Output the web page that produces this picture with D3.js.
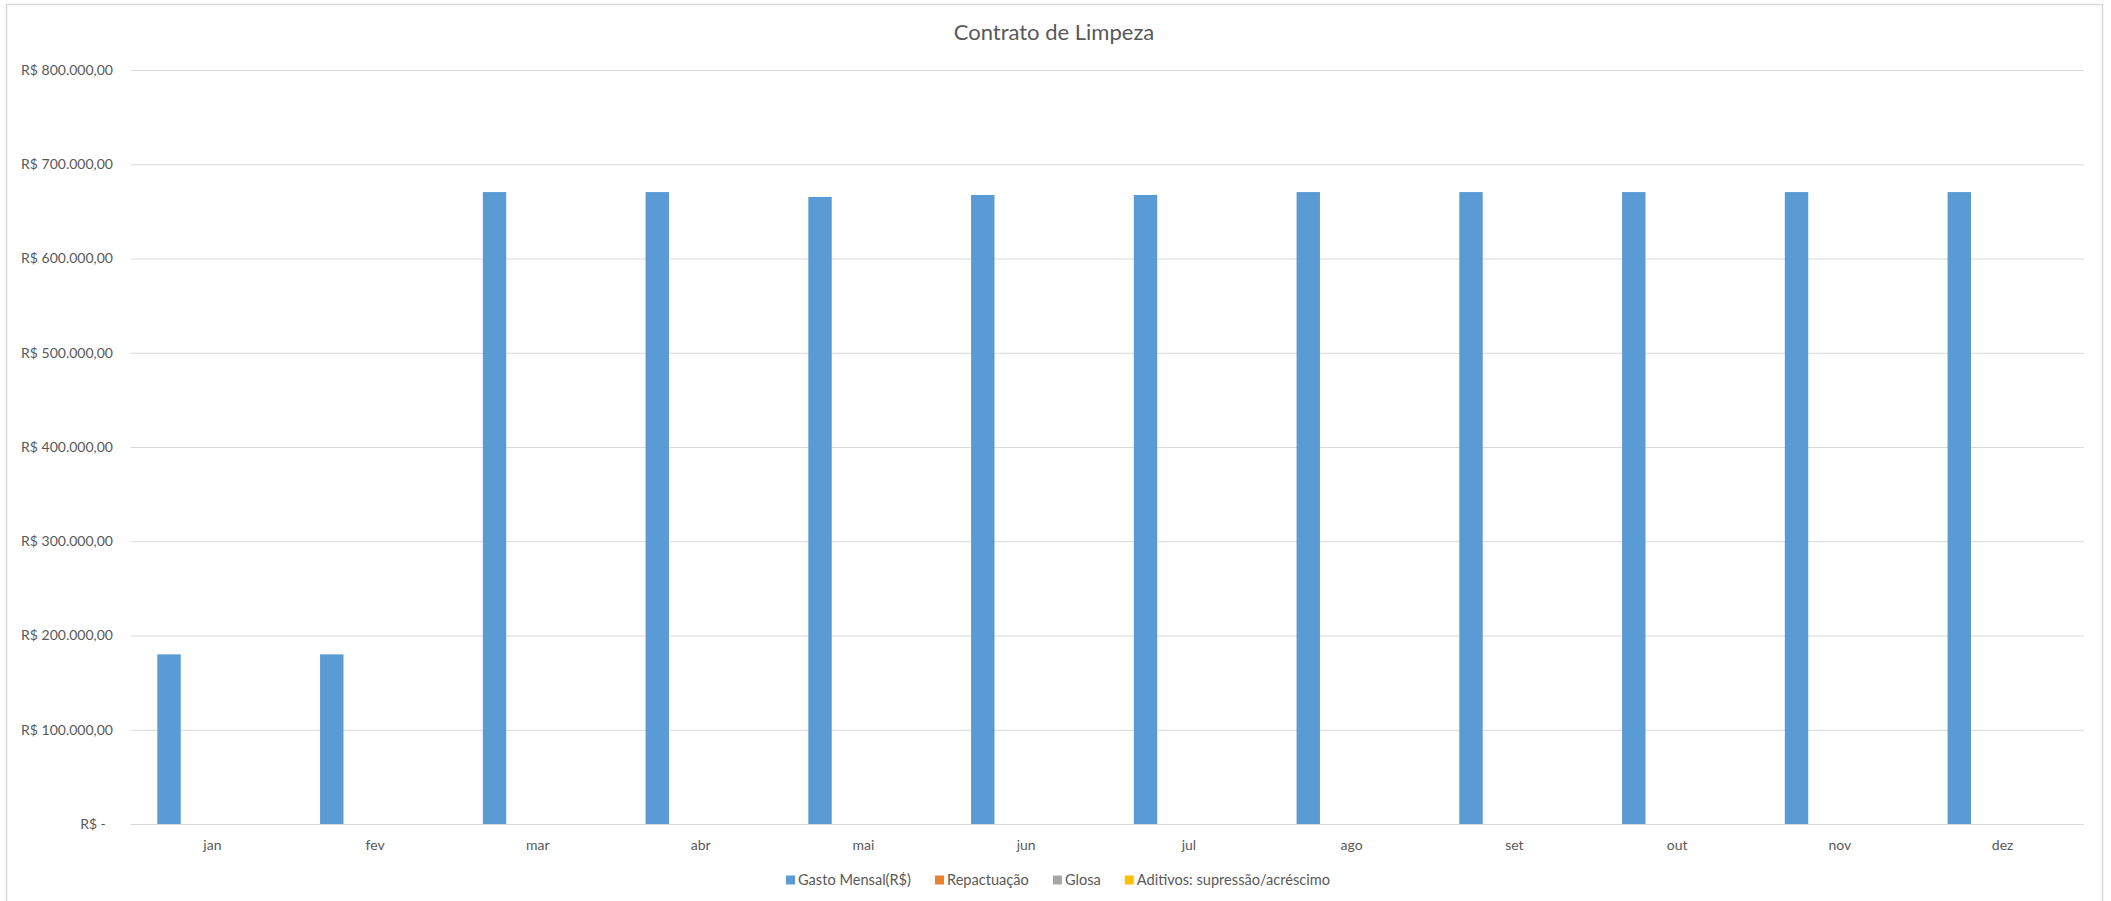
<!DOCTYPE html>
<html>
<head>
<meta charset="utf-8">
<script src="https://cdn.jsdelivr.net/npm/d3@7"></script>
<style>
  body { margin: 0; background: #fff; }
  svg { display: block; font-family: Lato, "Open Sans", sans-serif; }
</style>
</head>
<body>
<svg id="chart" width="2111" height="901"></svg>
<script>
// data
var months = ["jan", "fev", "mar", "abr", "mai", "jun", "jul", "ago", "set", "out", "nov", "dez"];
var seriesNames = ["Gasto Mensal(R$)", "Repactuação", "Glosa", "Aditivos: supressão/acréscimo"];
var seriesColors = ["#5B9BD5", "#ED7D31", "#A5A5A5", "#FFC000"];
var gastoMensal = [180000, 180000, 670500, 670500, 665300, 667400, 667400, 670500, 670500, 670500, 670500, 670500];
var repactuacao = [0, 0, 0, 0, 0, 0, 0, 0, 0, 0, 0, 0];
var glosa = [0, 0, 0, 0, 0, 0, 0, 0, 0, 0, 0, 0];
var aditivos = [0, 0, 0, 0, 0, 0, 0, 0, 0, 0, 0, 0];
var yTicks = [0, 100000, 200000, 300000, 400000, 500000, 600000, 700000, 800000];

var allSeries = [gastoMensal, repactuacao, glosa, aditivos];

document.addEventListener('DOMContentLoaded', function() {
    drawChart();
}, false);

function fmtMoney(v) {
    if (v === 0) return "R$ -\u00a0\u00a0";
    // brazilian format: 800.000,00
    var s = d3.format(",.2f")(v);
    s = s.replace(/,/g, "#").replace(".", ",").replace(/#/g, ".");
    return "R$ " + s;
}

function drawChart() {
    var svg = d3.select("#chart");
    var left = 131, right = 2084, top = 70, bottom = 824;
    var textColor = "#595959";
    var gridColor = "#d9d9d9";

    // outer border of the chart area
    svg.append("rect")
        .attr("x", 6.5).attr("y", 4.5)
        .attr("width", 2096).attr("height", 920)
        .style("fill", "none")
        .style("stroke", gridColor)
        .style("stroke-width", "1.5px");

    var x0 = d3.scaleBand().domain(months).range([left, right]);
    var groupW = 115.6;
    var off = (x0.bandwidth() - groupW) / 2;
    var x1 = d3.scaleBand().domain(d3.range(seriesNames.length))
        .range([off, off + groupW]).paddingInner(0.19).paddingOuter(0.095);
    var y = d3.scaleLinear().domain([0, 800000]).range([bottom, top]);

    // gridlines
    svg.append("g").selectAll("line")
        .data(yTicks)
        .enter().append("line")
        .attr("x1", left).attr("x2", right)
        .attr("y1", function(d){ return y(d) + 0.5; })
        .attr("y2", function(d){ return y(d) + 0.5; })
        .style("stroke", gridColor)
        .style("stroke-width", "1px");

    // y axis labels
    var yAxis = d3.axisLeft(y).tickValues(yTicks).tickFormat(fmtMoney).tickSize(0).tickPadding(18);
    var gy = svg.append("g").attr("transform", "translate(" + left + ",0)").call(yAxis);
    gy.select(".domain").remove();
    gy.selectAll("text")
        .style("font-family", "Lato, 'Open Sans', sans-serif")
        .style("font-size", "14px")
        .style("fill", textColor);

    // x axis labels
    var xAxis = d3.axisBottom(x0).tickSize(0).tickPadding(16);
    var gx = svg.append("g").attr("transform", "translate(0," + bottom + ")").call(xAxis);
    gx.select(".domain").remove();
    gx.selectAll("text")
        .style("font-family", "Lato, 'Open Sans', sans-serif")
        .style("font-size", "14px")
        .style("fill", textColor);

    // bars
    var groups = svg.append("g").selectAll("g")
        .data(months)
        .enter().append("g")
        .attr("transform", function(d){ return "translate(" + x0(d) + ",0)"; });

    groups.selectAll("rect")
        .data(function(d, i){
            return allSeries.map(function(s, k){ return {k: k, v: s[i]}; });
        })
        .enter().append("rect")
        .attr("x", function(d){ return x1(d.k); })
        .attr("width", x1.bandwidth())
        .attr("y", function(d){ return y(d.v); })
        .attr("height", function(d){ return y(0) - y(d.v); })
        .style("fill", function(d){ return seriesColors[d.k]; });

    // title
    svg.append("text")
        .attr("x", 1054).attr("y", 40)
        .attr("text-anchor", "middle")
        .style("font-size", "22px")
        .style("fill", textColor)
        .text("Contrato de Limpeza");

    // legend, laid out left to right then centred
    var legend = svg.append("g");
    var lx = 0, ly = 880;
    seriesNames.forEach(function(name, k){
        legend.append("rect")
            .attr("x", lx).attr("y", ly - 4.5)
            .attr("width", 9).attr("height", 9)
            .style("fill", seriesColors[k]);
        var t = legend.append("text")
            .attr("x", lx + 12).attr("y", ly)
            .attr("dy", "0.35em")
            .style("font-size", "14.6px")
            .style("fill", textColor)
            .text(name);
        lx = lx + 12 + t.node().getComputedTextLength() + 24;
    });
    var legendW = lx - 24;
    legend.attr("transform", "translate(" + (1058 - legendW / 2) + ",0)");
}
</script>
</body>
</html>
